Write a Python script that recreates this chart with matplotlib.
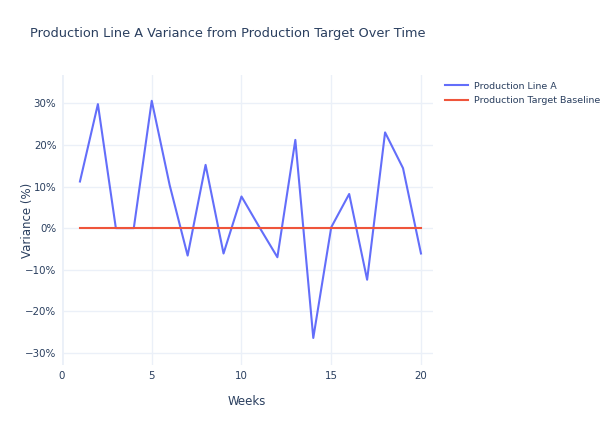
import matplotlib
matplotlib.use("Agg")
import matplotlib.pyplot as plt
from matplotlib.ticker import FuncFormatter, MultipleLocator

weeks = list(range(1, 21))
line_a = [11.2, 29.8, 0.0, 0.0, 30.6, 10.3, -6.6, 15.2, -6.1, 7.6,
          0.2, -7.0, 21.2, -26.4, 0.2, 8.2, -12.4, 23.0, 14.4, -6.1]
baseline = [0.0] * 20
series_names = ["Production Line A", "Production Target Baseline"]

plt.rcParams['font.family'] = ['DejaVu Sans']
fig = plt.figure(figsize=(6, 4.26), dpi=100)
ax = fig.add_axes([62/600, 1-365/426, (433-62)/600, (365-75)/426])

grid_c = "#EBF0F8"
text_c = "#2a3f5f"
ax.plot(weeks, line_a, color="#636efa", lw=1.5, label=series_names[0], zorder=3)
ax.plot(weeks, baseline, color="#EF553B", lw=1.5, label=series_names[1], zorder=3)

ax.set_xlim(0, 20.67)
ax.set_ylim(-32.9, 36.8)
ax.xaxis.set_major_locator(MultipleLocator(5))
ax.yaxis.set_major_locator(MultipleLocator(10))
ax.yaxis.set_major_formatter(FuncFormatter(lambda v, p: f"{int(round(v))}%".replace("-", "\u2212")))
ax.grid(True, color=grid_c, lw=1)
ax.set_axisbelow(True)
for s in ax.spines.values():
    s.set_visible(False)
ax.tick_params(length=0, labelsize=7.4, colors=text_c, pad=4)
ax.axvline(0, color=grid_c, lw=2, zorder=1)

ax.set_xlabel("Weeks", fontsize=8.5, color=text_c)
ax.set_ylabel("Variance (%)", fontsize=8.5, color=text_c)
ax.xaxis.set_label_coords((247-62)/371, -(395-365)/290)
ax.yaxis.set_label_coords((34-62)/371, (365-220)/290)
fig.text(30/600, 1-33/426, "Production Line A Variance from Production Target Over Time",
         fontsize=9.3, color=text_c, va="center", ha="left")

leg = fig.legend(loc="upper left", bbox_to_anchor=(441/600, 1-78/426), frameon=False,
                 fontsize=6.8, labelcolor=text_c, handlelength=2.5, handletextpad=0.6,
                 borderaxespad=0, labelspacing=0.6)

fig.savefig("out.png", dpi=100)
